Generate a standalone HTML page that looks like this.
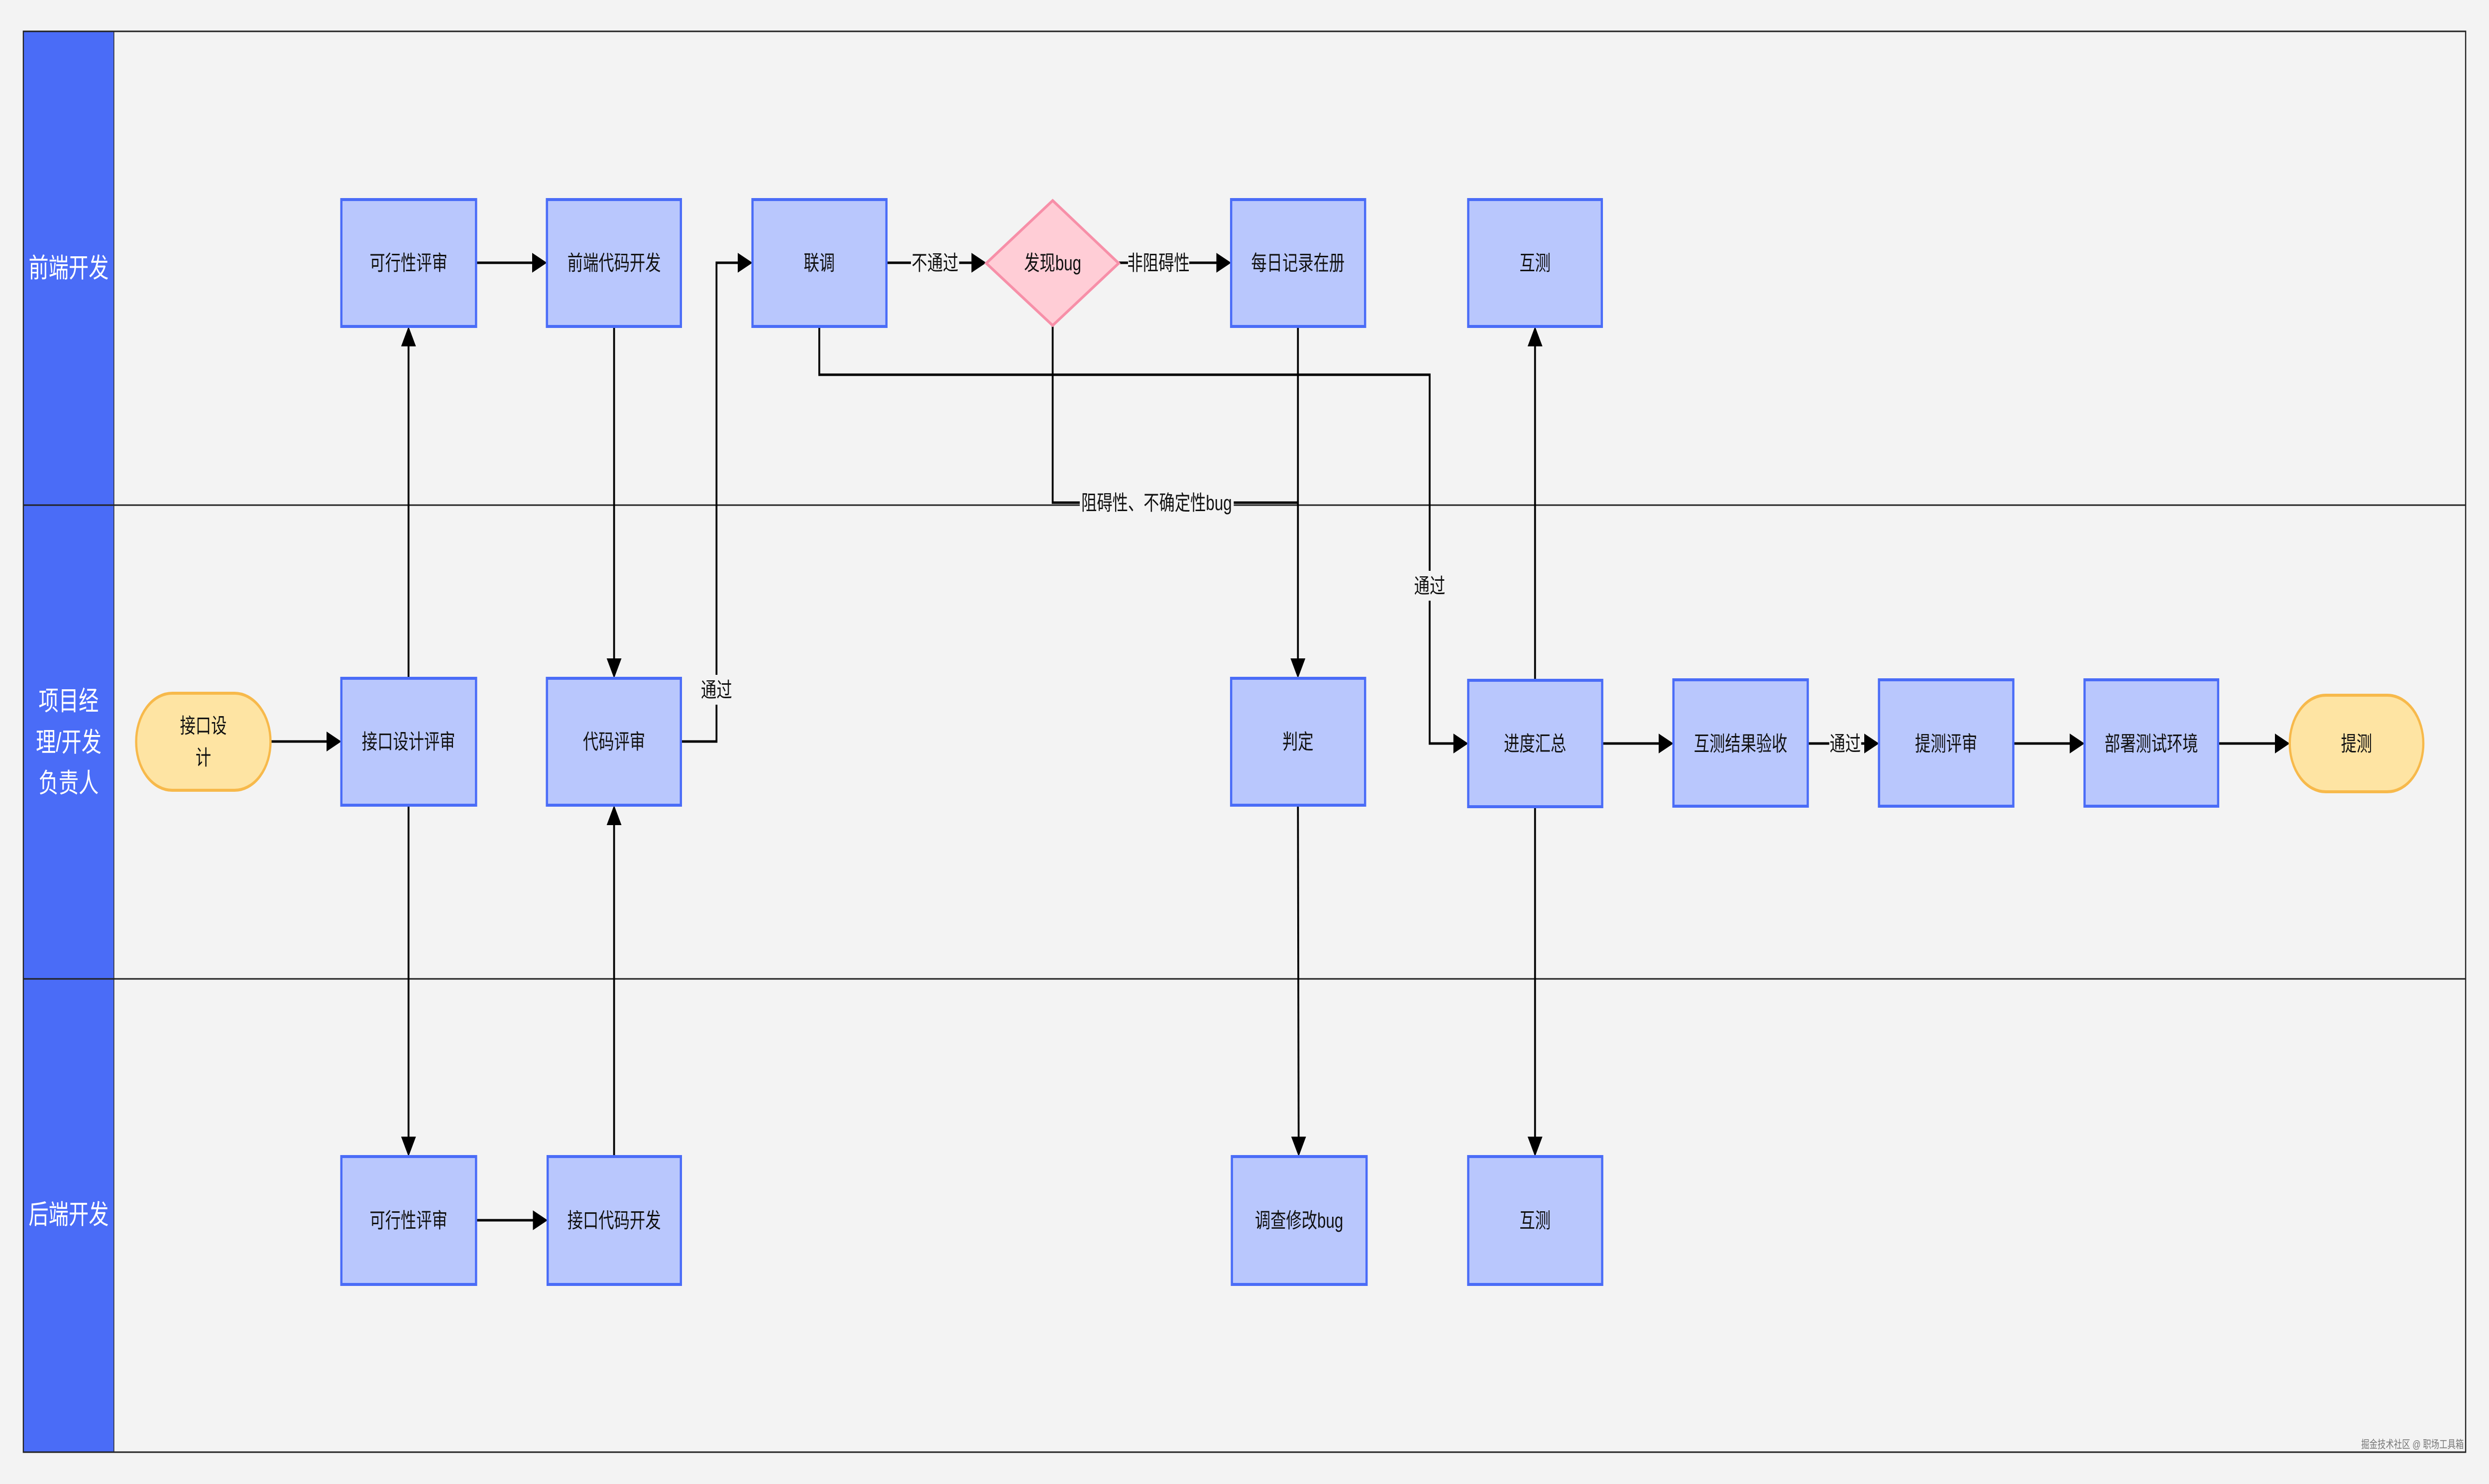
<!DOCTYPE html>
<html><head><meta charset="utf-8"><style>
html,body{margin:0;padding:0;background:#f3f3f3;width:100vw;height:100vh;overflow:hidden;}
svg{display:block;width:100vw;height:100vh;}
text{font-family:"Liberation Sans","Noto Sans CJK SC",sans-serif;}
</style></head><body>
<svg viewBox="0 0 6708 2982" preserveAspectRatio="none" xmlns="http://www.w3.org/2000/svg">
<defs>
<marker id="a" markerWidth="8" markerHeight="8" refX="7" refY="4" orient="auto" markerUnits="strokeWidth">
<path d="M0,0 L8,4 L0,8 z" fill="#000"/></marker>
</defs>
<rect x="0" y="0" width="6708" height="2982" fill="#f3f3f3"/>
<rect x="63" y="63" width="6582" height="2855" fill="#f3f3f3" stroke="#222" stroke-width="3"/>
<rect x="63" y="63" width="244" height="2855" fill="#4a6cf7"/>
<line x1="63" y1="1015" x2="6645" y2="1015" stroke="#222" stroke-width="3"/>
<line x1="63" y1="1967" x2="6645" y2="1967" stroke="#222" stroke-width="3"/>
<line x1="307" y1="63" x2="307" y2="2918" stroke="#222" stroke-width="2"/>
<rect x="63" y="63" width="6582" height="2855" fill="none" stroke="#222" stroke-width="3"/>
<g fill="#fff" font-size="54" text-anchor="middle">
<text x="185" y="557">前端开发</text>
<text x="185" y="1427">项目经</text>
<text x="185" y="1510">理/开发</text>
<text x="185" y="1592">负责人</text>
<text x="185" y="2459">后端开发</text>
</g>

<g stroke="#000" stroke-width="5" fill="none" marker-end="url(#a)">
<path d="M729,1490 H915"/>
<path d="M1101,1363 V661"/>
<path d="M1101,1618 V2319"/>
<path d="M1283,528 H1469"/>
<path d="M1655,656 V1358"/>
<path d="M1283,2452 H1471"/>
<path d="M1655,2324 V1623"/>
<path d="M1835,1490 H1931 V528 H2023"/>
<path d="M2389,528 H2653"/>
<path d="M3015,528 H3313"/>
<path d="M2208,656 V753 H3853 V1494 H3952"/>
<path d="M3498,656 V1358"/>
<path d="M3498,1618 L3500,2319"/>
<path d="M4137,1367 V661"/>
<path d="M4137,1621 V2319"/>
<path d="M4318,1494 H4505"/>
<path d="M4872,1494 H5059"/>
<path d="M5426,1494 H5613"/>
<path d="M5978,1494 H6166"/>
</g>
<path d="M2837,654 V1010 H3498" stroke="#000" stroke-width="5" fill="none"/>

<g font-size="42" text-anchor="middle" fill="#111">
<rect x="1896" y="1356" width="70" height="60" fill="#f3f3f3"/>
<text x="1931" y="1401">通过</text>
<rect x="2455" y="498" width="130" height="60" fill="#f3f3f3"/>
<text x="2520" y="543">不通过</text>
<rect x="3040" y="498" width="165" height="60" fill="#f3f3f3"/>
<text x="3122" y="543">非阻碍性</text>
<rect x="3818" y="1147" width="70" height="60" fill="#f3f3f3"/>
<text x="3853" y="1192">通过</text>
<rect x="2910" y="980" width="415" height="60" fill="#f3f3f3"/>
<text x="3117" y="1025">阻碍性、不确定性bug</text>
<rect x="4930" y="1464" width="86" height="60" fill="#f3f3f3"/>
<text x="4973" y="1509">通过</text>
</g>

<g fill="#b9c7fd" stroke="#4a6cf7" stroke-width="6">
<rect x="920" y="401" width="363" height="255"/>
<rect x="1474" y="401" width="361" height="255"/>
<rect x="2028" y="401" width="361" height="255"/>
<rect x="3318" y="401" width="361" height="255"/>
<rect x="3957" y="401" width="360" height="255"/>
<rect x="920" y="1363" width="363" height="255"/>
<rect x="1474" y="1363" width="361" height="255"/>
<rect x="3318" y="1363" width="361" height="255"/>
<rect x="3957" y="1367" width="361" height="254"/>
<rect x="4510" y="1366" width="362" height="254"/>
<rect x="5064" y="1366" width="362" height="254"/>
<rect x="5618" y="1366" width="360" height="254"/>
<rect x="920" y="2324" width="363" height="257"/>
<rect x="1476" y="2324" width="359" height="257"/>
<rect x="3320" y="2324" width="363" height="257"/>
<rect x="3957" y="2324" width="361" height="257"/>
</g>
<path d="M2837,403 L3015,529 L2837,654 L2658,529 Z" fill="#ffcdd6" stroke="#f78fa8" stroke-width="6"/>
<rect x="367" y="1393" width="362" height="195" rx="97" ry="97" fill="#fee4a3" stroke="#f7b94b" stroke-width="6"/>
<rect x="6171" y="1397" width="360" height="194" rx="97" ry="97" fill="#fee4a3" stroke="#f7b94b" stroke-width="6"/>

<g font-size="42" text-anchor="middle" fill="#111">
<text x="1101" y="543">可行性评审</text>
<text x="1655" y="543">前端代码开发</text>
<text x="2208" y="543">联调</text>
<text x="2837" y="543">发现bug</text>
<text x="3498" y="543">每日记录在册</text>
<text x="4137" y="543">互测</text>
<text x="548" y="1473">接口设</text>
<text x="548" y="1537">计</text>
<text x="1101" y="1505">接口设计评审</text>
<text x="1655" y="1505">代码评审</text>
<text x="3498" y="1505">判定</text>
<text x="4137" y="1509">进度汇总</text>
<text x="4691" y="1509">互测结果验收</text>
<text x="5245" y="1509">提测评审</text>
<text x="5798" y="1509">部署测试环境</text>
<text x="6351" y="1509">提测</text>
<text x="1101" y="2467">可行性评审</text>
<text x="1655" y="2467">接口代码开发</text>
<text x="3501" y="2467">调查修改bug</text>
<text x="4137" y="2467">互测</text>
</g>
<text x="6640" y="2910" font-size="22" text-anchor="end" fill="#777">掘金技术社区 @ 职场工具箱</text>
</svg>
</body></html>
